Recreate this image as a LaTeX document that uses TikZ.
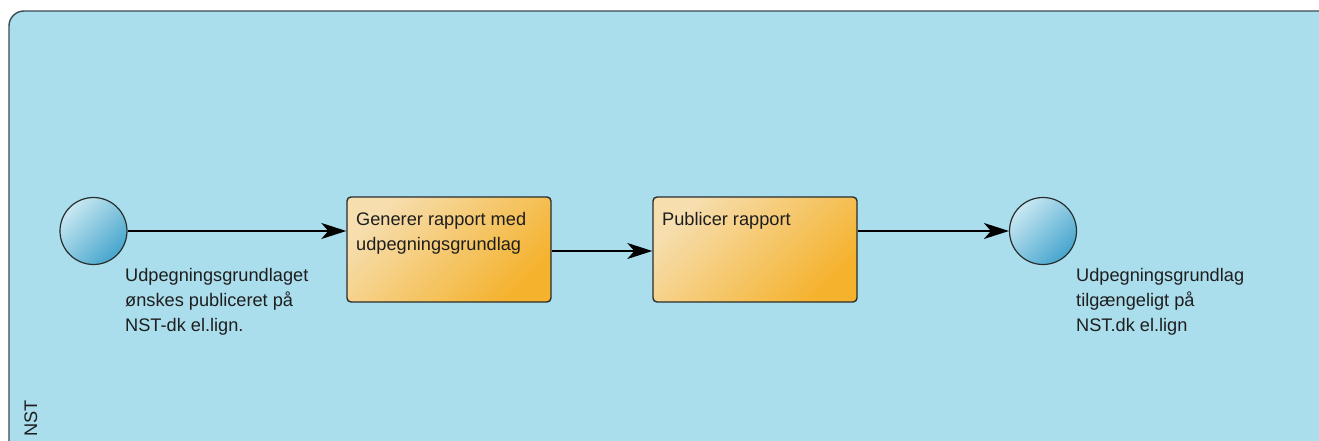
\documentclass[tikz,border=0pt]{standalone}
\usepackage{fontspec}
\setmainfont{Liberation Sans}
\usetikzlibrary{arrows.meta,shadings}
\definecolor{poolfill}{RGB}{170,222,236}
\definecolor{pooledge}{RGB}{60,75,80}
\definecolor{evlight}{RGB}{200,232,242}
\definecolor{evdark}{RGB}{70,165,205}
\definecolor{tklight}{RGB}{246,222,175}
\definecolor{tkdark}{RGB}{245,178,45}
\definecolor{edge}{RGB}{40,45,45}
\definecolor{txt}{RGB}{30,30,30}
\tikzset{
  event/.style={circle, draw=edge, line width=1.2pt, minimum size=67pt, inner sep=0pt,
    top color=evlight, bottom color=evdark, shading angle=45},
  task/.style={rectangle, rounded corners=4pt, draw=edge, line width=1.4pt,
    minimum width=204pt, minimum height=105pt, inner sep=0pt,
    top color=tklight, bottom color=tkdark, shading angle=45},
  flow/.style={draw=black, line width=1.6pt, -{Stealth[length=25pt,width=16pt,inset=7pt]}},
  lbl/.style={font=\fontsize{18.2}{25}\selectfont, text=txt, align=left, anchor=north west, inner sep=0pt},
}
\begin{document}
\begin{tikzpicture}[x=1pt,y=-1pt]
\useasboundingbox (0,0) rectangle (1319,441);
\fill[white] (0,0) rectangle (1319,441);
% pool
\fill[poolfill, rounded corners=15pt] (9,460) -- (9,11) -- (1340,11) -- (1340,460) -- cycle;
\draw[pooledge, line width=1.4pt, rounded corners=15pt] (9,460) -- (9,11) -- (1340,11);
\node[rotate=90, anchor=base west, inner sep=0pt, font=\fontsize{18.2}{20}\selectfont, text=txt] (lane) at (37,437) {NST};
% nodes
\node[event] (start) at (93.5,231) {};
\node[task] (t1) at (449,249.5) {};
\node[task] (t2) at (755,249.5) {};
\node[event] (end) at (1043,231) {};
\node[lbl] (t1text) at (356,212.5) {Generer rapport med\\udpegningsgrundlag};
\node[lbl] (t2text) at (662,212.5) {Publicer rapport};
\node[lbl] (slabel) at (125,268.5) {Udpegningsgrundlaget\\ønskes publiceret på\\NST-dk el.lign.};
\node[lbl] (elabel) at (1076,268.5) {Udpegningsgrundlag\\tilgængeligt på\\NST.dk el.lign};
% flows
\draw[flow] (start.east) -- (start.east -| t1.west);
\draw[flow] (t1.east |- 0,251) -- (t2.west |- 0,251);
\draw[flow] (t2.east |- end.west) -- (end.west);
\end{tikzpicture}
\end{document}
